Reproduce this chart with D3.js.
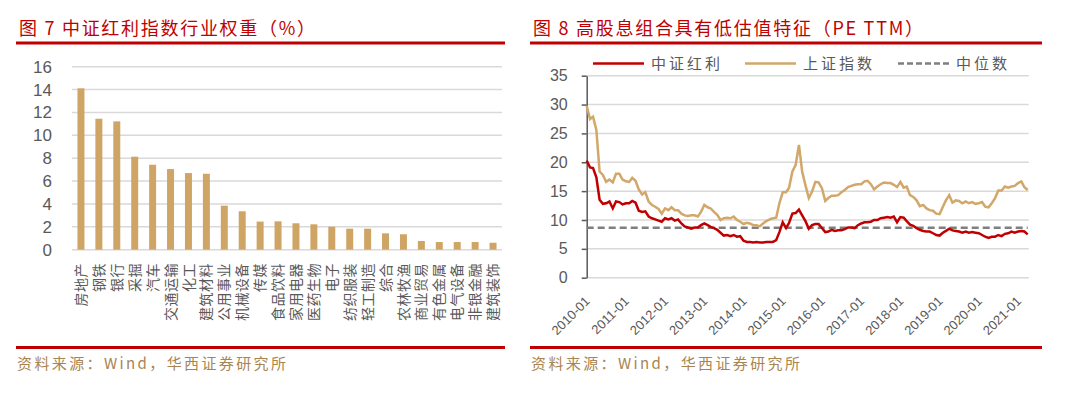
<!DOCTYPE html>
<html>
<head>
<meta charset="utf-8">
<script src="https://cdn.jsdelivr.net/npm/d3@7/dist/d3.min.js"></script>
<style>
	body { margin: 0; background: #fff; }
	svg { display: block; }
</style>
</head>
<body>
<div class="svg-div"></div>
<script>
// ---- data: left chart (industry weights, %)
var industries = ["房地产", "钢铁", "银行", "采掘", "汽车", "交通运输", "化工", "建筑材料",
	"公用事业", "机械设备", "传媒", "食品饮料", "家用电器", "医药生物", "电子", "纺织服装",
	"轻工制造", "综合", "农林牧渔", "商业贸易", "有色金属", "电气设备", "非银金融", "建筑装饰"];
var weights = [14.11, 11.45, 11.22, 8.13, 7.43, 7.05, 6.70, 6.64,
	3.85, 3.36, 2.46, 2.48, 2.31, 2.22, 2.01, 1.84,
	1.84, 1.43, 1.35, 0.76, 0.67, 0.67, 0.67, 0.61];
var weightTicks = [0, 2, 4, 6, 8, 10, 12, 14, 16];

// ---- data: right chart (PE TTM, monthly from 2010-01)
var peStart = "2010-01";
var dividendPE = [
	20.3, 19.1, 19.0, 17.4, 13.5, 12.8, 12.9, 13.2, 12.0, 13.2, 13.1, 12.7,
	12.9, 12.9, 13.3, 13.0, 11.6, 11.4, 11.5, 10.6, 10.3, 10.1, 9.9, 9.7,
	10.3, 10.1, 10.3, 9.9, 10.1, 9.4, 8.9, 8.7, 8.5, 8.7, 8.7, 9.1,
	9.4, 9.1, 8.8, 8.6, 8.3, 7.8, 7.3, 7.4, 7.2, 7.4, 7.1, 7.2,
	6.4, 6.2, 6.2, 6.1, 6.2, 6.1, 6.1, 6.2, 6.2, 6.2, 6.5, 7.9,
	9.6, 8.6, 9.5, 11.1, 11.2, 11.8, 10.8, 9.8, 8.5, 9.1, 9.3, 9.3,
	8.6, 7.9, 8.0, 8.3, 8.1, 8.2, 8.2, 8.4, 8.7, 8.7, 8.6, 9.1,
	9.4, 9.6, 9.6, 9.7, 10.0, 10.0, 10.3, 10.4, 10.5, 10.4, 10.6, 9.6,
	10.5, 10.4, 9.8, 9.2, 9.0, 8.6, 8.3, 8.1, 8.0, 8.0, 7.7, 7.4,
	7.3, 7.8, 8.1, 8.5, 8.2, 8.1, 8.0, 7.8, 8.0, 7.8, 7.9, 7.8,
	7.7, 7.4, 7.1, 6.9, 7.1, 7.1, 7.4, 7.2, 7.6, 7.7, 8.0, 7.8,
	8.0, 8.1, 8.0, 7.5];
var shanghaiPE = [
	29.8, 27.5, 27.9, 25.6, 18.4, 17.8, 16.6, 17.0, 16.5, 18.0, 18.0, 17.0,
	16.7, 16.6, 17.3, 16.8, 15.3, 14.4, 14.8, 13.2, 12.6, 12.3, 11.9, 11.1,
	12.0, 11.7, 12.2, 11.7, 11.7, 11.1, 10.8, 10.7, 10.8, 10.8, 10.6, 11.4,
	12.6, 12.2, 12.0, 11.4, 10.9, 10.0, 10.3, 10.4, 10.3, 10.6, 10.0, 9.7,
	9.3, 9.5, 9.4, 9.1, 9.1, 8.9, 9.4, 9.8, 10.1, 10.3, 10.4, 12.9,
	14.8, 14.8, 15.6, 18.4, 19.5, 23.0, 18.4, 16.0, 13.8, 14.9, 16.6, 16.5,
	15.5, 13.3, 13.8, 14.2, 14.2, 14.3, 14.8, 15.2, 15.7, 15.9, 16.1, 16.2,
	16.2, 16.7, 16.8, 16.2, 15.3, 15.8, 16.2, 16.5, 16.4, 16.4, 16.1, 15.7,
	16.6, 15.6, 15.8, 14.3, 14.0, 13.4, 12.4, 12.6, 12.0, 11.7, 11.6, 11.1,
	11.0, 12.3, 13.4, 14.3, 13.0, 13.4, 13.3, 12.9, 13.2, 12.9, 13.1, 12.8,
	12.9, 13.1, 12.3, 12.2, 12.9, 13.8, 15.1, 15.1, 15.8, 15.6, 15.8, 15.9,
	16.4, 16.7, 15.7, 15.2];
var dividendMedian = 8.65;
var peTicks = [0, 5, 10, 15, 20, 25, 30, 35];
var yearTicks = ["2010-01", "2011-01", "2012-01", "2013-01", "2014-01", "2015-01",
	"2016-01", "2017-01", "2018-01", "2019-01", "2020-01", "2021-01"];
var legendNames = ["中证红利", "上证指数", "中位数"];

// ---- styles
var red = "#c00000";
var gold = "#d2a76a";
var barColor = "#cfa566";
var grid = "#d9d9d9";
var textGray = "#595959";
var sourceColor = "#a88550";
var cjk = "'Noto Sans CJK SC', 'Noto Sans', sans-serif";
var num = "'Liberation Sans', Arial, sans-serif";

var svg = d3.select(".svg-div")
	.append("svg")
	.attr("width", 1080)
	.attr("height", 395);

svg.append("rect").attr("width", 1080).attr("height", 395).attr("fill", "#fff");

// titles, rules and sources for both panels
function panelFrame(x0, x1, title, titleWidth) {
	svg.append("text")
		.attr("x", x0 + 3).attr("y", 35)
		.attr("textLength", titleWidth).attr("lengthAdjust", "spacing")
		.attr("fill", red)
		.style("font-family", cjk).style("font-size", "18px")
		.text(title);
	svg.append("line")
		.attr("x1", x0).attr("x2", x1).attr("y1", 43).attr("y2", 43)
		.attr("stroke", red).attr("stroke-width", 3);
	svg.append("line")
		.attr("x1", x0).attr("x2", x1).attr("y1", 347.5).attr("y2", 347.5)
		.attr("stroke", red).attr("stroke-width", 3);
	svg.append("text")
		.attr("x", x0 + 1).attr("y", 369)
		.attr("textLength", 269).attr("lengthAdjust", "spacing")
		.attr("fill", sourceColor)
		.style("font-family", cjk).style("font-size", "15px")
		.text("资料来源：Wind，华西证券研究所");
}
panelFrame(16, 505, "图 7  中证红利指数行业权重（%）", 296);
panelFrame(530, 1042, "图 8  高股息组合具有低估值特征（PE TTM）", 390);

// ---- left chart: bars
var xBand = d3.scaleBand()
	.domain(industries)
	.range([72, 502])
	.paddingInner(0.61)
	.paddingOuter(0.305);
var yW = d3.scaleLinear().domain([0, 16]).range([249.7, 66.7]);

var left = svg.append("g");

left.selectAll("line.grid")
	.data(weightTicks)
	.enter()
	.append("line")
	.attr("class", "grid")
	.attr("x1", 72).attr("x2", 502)
	.attr("y1", function(d) { return yW(d); })
	.attr("y2", function(d) { return yW(d); })
	.attr("stroke", grid).attr("stroke-width", 1.5);

var leftAxis = left.append("g")
	.attr("transform", "translate(58,0)")
	.call(d3.axisLeft(yW).tickValues(weightTicks).tickSize(0).tickPadding(6));
leftAxis.select(".domain").remove();
leftAxis.selectAll("text")
	.attr("fill", textGray)
	.style("font-family", num).style("font-size", "17px");

left.selectAll("rect")
	.data(weights)
	.enter()
	.append("rect")
	.attr("x", function(d, i) { return xBand(industries[i]); })
	.attr("width", xBand.bandwidth())
	.attr("y", function(d) { return yW(d); })
	.attr("height", function(d) { return yW(0) - yW(d); })
	.attr("fill", barColor);

left.selectAll("text.cat")
	.data(industries)
	.enter()
	.append("text")
	.attr("class", "cat")
	.attr("transform", function(d) {
		return "translate(" + (xBand(d) + xBand.bandwidth() / 2) + ",263) rotate(-90)";
	})
	.attr("dy", "0.36em")
	.attr("text-anchor", "end")
	.attr("fill", textGray)
	.style("font-family", cjk).style("font-size", "14px")
	.style("letter-spacing", "0.5px")
	.text(function(d) { return d; });

// ---- right chart: lines
var parseMonth = d3.timeParse("%Y-%m");
var t0 = parseMonth(peStart);
var months = dividendPE.map(function(d, i) { return d3.timeMonth.offset(t0, i); });

var xT = d3.scaleTime()
	.domain([t0, months[months.length - 1]])
	.range([586.7, 1027.7]);
var yP = d3.scaleLinear().domain([0, 35]).range([277.7, 75.7]);

var right = svg.append("g");

right.selectAll("line.grid")
	.data(peTicks)
	.enter()
	.append("line")
	.attr("class", "grid")
	.attr("x1", 586.7).attr("x2", 1028.7)
	.attr("y1", function(d) { return yP(d); })
	.attr("y2", function(d) { return yP(d); })
	.attr("stroke", grid).attr("stroke-width", 1.5);

var rightAxis = right.append("g")
	.attr("transform", "translate(586.7,0)")
	.call(d3.axisLeft(yP).tickValues(peTicks).tickSize(5).tickSizeOuter(0).tickPadding(14));
rightAxis.select(".domain").attr("stroke", textGray).attr("stroke-width", 1.5);
rightAxis.selectAll(".tick line").attr("stroke", textGray).attr("stroke-width", 1.5);
rightAxis.selectAll("text")
	.attr("fill", textGray)
	.style("font-family", num).style("font-size", "16px");

// date labels, rotated
right.selectAll("text.date")
	.data(yearTicks)
	.enter()
	.append("text")
	.attr("class", "date")
	.attr("transform", function(d) {
		return "translate(" + (xT(parseMonth(d)) + 4) + ",302) rotate(-45)";
	})
	.attr("text-anchor", "end")
	.attr("fill", textGray)
	.style("font-family", num).style("font-size", "13px")
	.text(function(d) { return d; });

// median dashed line
right.append("line")
	.attr("x1", xT.range()[0]).attr("x2", xT.range()[1])
	.attr("y1", yP(dividendMedian)).attr("y2", yP(dividendMedian))
	.attr("stroke", "#7f7f7f").attr("stroke-width", 2.5)
	.attr("stroke-dasharray", "7,4");

var line = d3.line()
	.x(function(d, i) { return xT(months[i]); })
	.y(function(d) { return yP(d); });

right.append("path")
	.datum(shanghaiPE)
	.attr("d", line)
	.attr("fill", "none")
	.attr("stroke", gold).attr("stroke-width", 2.5);

right.append("path")
	.datum(dividendPE)
	.attr("d", line)
	.attr("fill", "none")
	.attr("stroke", red).attr("stroke-width", 2.5);

// legend
var legendItems = [
	{ name: legendNames[0], color: red, dash: null, x: 593 },
	{ name: legendNames[1], color: gold, dash: null, x: 745 },
	{ name: legendNames[2], color: "#7f7f7f", dash: "6,3", x: 898 }
];
var legend = svg.append("g").selectAll("g")
	.data(legendItems)
	.enter()
	.append("g")
	.attr("transform", function(d) { return "translate(" + d.x + ",63.5)"; });
legend.append("line")
	.attr("x1", 0).attr("x2", 51)
	.attr("stroke", function(d) { return d.color; })
	.attr("stroke-width", 2.5)
	.attr("stroke-dasharray", function(d) { return d.dash; });
legend.append("text")
	.attr("x", 58).attr("y", 5.5)
	.attr("fill", textGray)
	.style("font-family", cjk).style("font-size", "15px")
	.style("letter-spacing", "3px")
	.text(function(d) { return d.name; });
</script>
</body>
</html>
